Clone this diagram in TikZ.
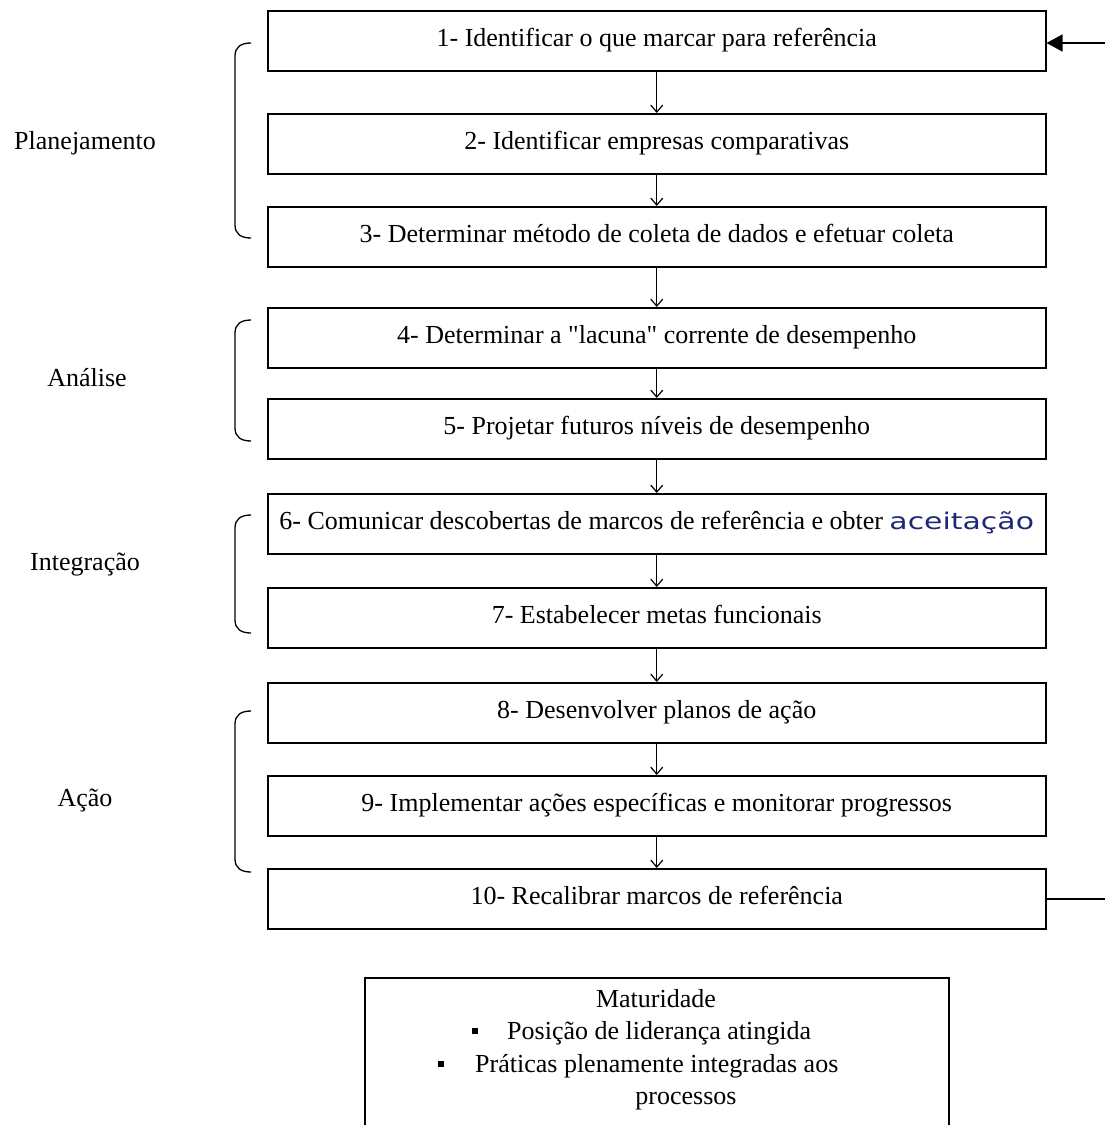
\documentclass[tikz,border=0pt]{standalone}
\usepackage{graphicx}
\usepackage{fontspec}
\setmainfont{Liberation Serif}[Ligatures=TeXOff]
\newfontfamily\accfont{DejaVu Sans}
\usetikzlibrary{arrows.meta}
\definecolor{accblue}{RGB}{30,40,120}
\begin{document}
\begin{tikzpicture}[x=1pt,y=-1pt,
  every node/.style={font=\fontsize{26}{30}\selectfont},
  stepbox/.style={draw, line width=1.5pt, minimum width=778pt, minimum height=60pt,
    inner sep=0pt, anchor=north west, text height=19pt, text depth=7pt},
  flow/.style={line width=1.2pt, -{Straight Barb[length=7pt,width=12pt,line width=1.2pt]}},
  feed/.style={line width=1.5pt},
  brace/.style={line width=1.3pt},
  phase/.style={inner sep=0pt},
  matbox/.style={draw, line width=1.5pt, anchor=north west, minimum width=584pt,
    minimum height=200pt, inner sep=0pt},
  mattext/.style={inner sep=0pt, anchor=base west},
  bullet/.style={fill, inner sep=0pt, minimum size=6.5pt}]
\clip (0,0) rectangle (1105,1125);
% steps
\node[stepbox] (b1) at (267,10) {1- Identificar o que marcar para referência};
\node[stepbox] (b2) at (267,113) {2- Identificar empresas comparativas};
\node[stepbox] (b3) at (267,206) {3- Determinar método de coleta de dados e efetuar coleta};
\node[stepbox] (b4) at (267,307) {4- Determinar a "lacuna" corrente de desempenho};
\node[stepbox] (b5) at (267,398) {5- Projetar futuros níveis de desempenho};
\node[stepbox] (b6) at (267,493) {6- Comunicar descobertas de marcos de referência e obter \scalebox{1.3}[1]{\accfont\fontsize{23}{26}\selectfont\color{accblue}aceitação}};
\node[stepbox] (b7) at (267,587) {7- Estabelecer metas funcionais};
\node[stepbox] (b8) at (267,682) {8- Desenvolver planos de ação};
\node[stepbox] (b9) at (267,775) {9- Implementar ações específicas e monitorar progressos};
\node[stepbox] (b10) at (267,868) {10- Recalibrar marcos de referência};
% flow arrows
\foreach \a/\b in {b1/b2,b2/b3,b3/b4,b4/b5,b5/b6,b6/b7,b7/b8,b8/b9,b9/b10}
  \draw[flow] (\a.south) -- (\b.north);
% feedback
\coordinate (fbin) at (1110,43);
\coordinate (fbout) at (1110,899);
\draw[feed, -{Triangle[length=16pt,width=17pt]}] (fbin) -- (fbin -| b1.east);
\draw[feed] (b10.east |- fbout) -- (fbout);
% phase labels
\node[phase] (p1) at (85,143) {Planejamento};
\node[phase] (p2) at (87,378) {Análise};
\node[phase] (p3) at (85,565) {Integração};
\node[phase] (p4) at (85,800) {Ação};
% brackets
\draw[brace] (251,43) .. controls (241,43) and (235,47) .. (235,56) -- (235,225) .. controls (235,234) and (241,238) .. (251,238);
\draw[brace] (251,320) .. controls (241,320) and (235,324) .. (235,333) -- (235,428) .. controls (235,437) and (241,441) .. (251,441);
\draw[brace] (251,515) .. controls (241,515) and (235,519) .. (235,528) -- (235,620) .. controls (235,629) and (241,633) .. (251,633);
\draw[brace] (251,711) .. controls (241,711) and (235,715) .. (235,724) -- (235,859) .. controls (235,868) and (241,872) .. (251,872);
% maturity
\node[matbox] (mat) at (364,977) {};
\node[inner sep=0pt, anchor=base] (m1) at (656,1007) {Maturidade};
\node[bullet] (bl1) at (475,1031) {};
\node[mattext] (m2) at (507,1039) {Posição de liderança atingida};
\node[bullet] (bl2) at (441,1064) {};
\node[mattext] (m3) at (475,1072) {Práticas plenamente integradas aos};
\node[inner sep=0pt, anchor=base] (m4) at (686,1104) {processos};
\end{tikzpicture}
\end{document}
